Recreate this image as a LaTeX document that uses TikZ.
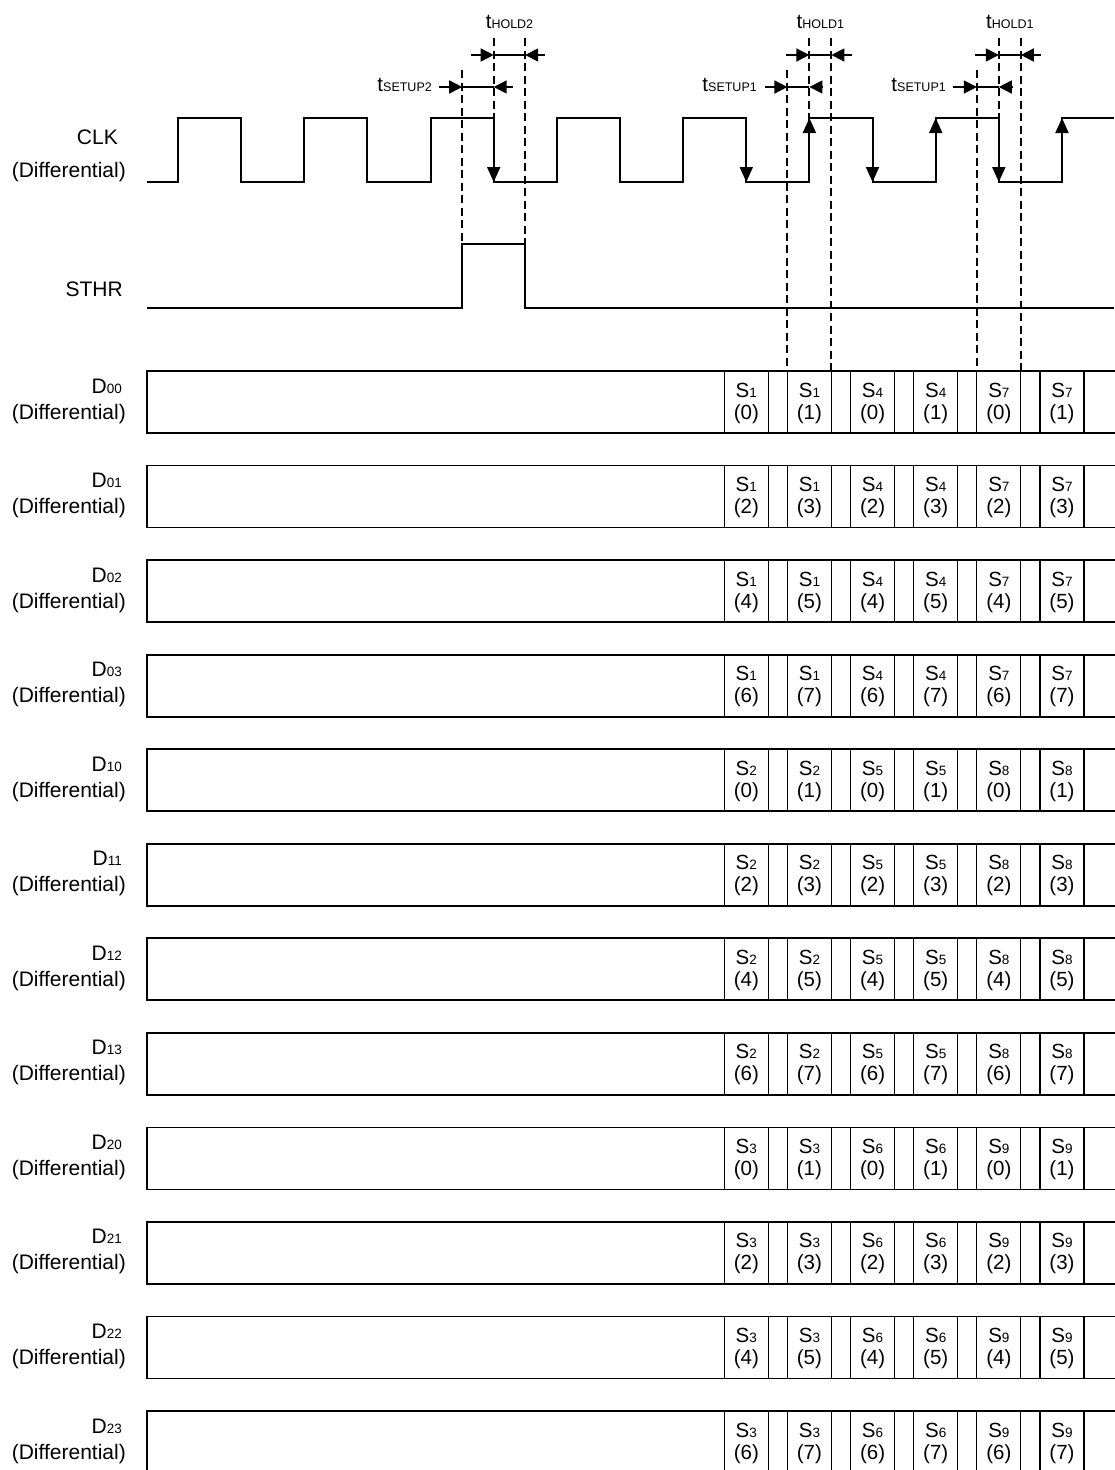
\documentclass[tikz,border=0pt]{standalone}
\usepackage{fontspec}
\setmainfont{Liberation Sans}
\usetikzlibrary{arrows.meta}
\newcommand\subsm[1]{{\fontsize{13.5}{14}\selectfont #1}}
\newcommand\tsub[1]{{\fontsize{12.5}{13}\selectfont #1}}
\tikzset{
 sig/.style={line width=2pt},
 boxline/.style={line width=1.8pt},
 cellline/.style={line width=1.1pt},
 dashline/.style={line width=2pt, dash pattern=on 8pt off 4.5pt},
 dimline/.style={line width=1.1pt},
 dimarrow/.style={line width=1.6pt, -{Triangle[length=13pt,width=13pt]}},
 edgearrow/.style={line width=2pt, -{Triangle[length=15pt,width=13pt]}},
 lbl/.style={inner sep=0pt, font=\fontsize{21}{25}\selectfont},
 celltxt/.style={inner sep=0pt, font=\fontsize{20.5}{24}\selectfont, anchor=base},
 tl/.style={inner sep=0pt, font=\fontsize{20.5}{24}\selectfont},
}
\begin{document}
\begin{tikzpicture}[x=1pt,y=-1pt]
\useasboundingbox[fill=white] (0,0) rectangle (1114,1470);

% ---------- CLK ----------
\node[lbl, anchor=base east] (clk) at (118,144) {CLK};
\node[lbl, anchor=base east] (clkd) at (126,177) {(Differential)};
\draw[sig] (147,182) -- (178,182) -- (178,118) -- (241.1,118) -- (241.1,182) -- (304.3,182) -- (304.3,118) -- (367.4,118) -- (367.4,182) -- (430.6,182) -- (430.6,118) -- (493.7,118) -- (493.7,182) -- (556.8,182) -- (556.8,118) -- (620,118) -- (620,182) -- (683.1,182) -- (683.1,118) -- (746.3,118) -- (746.3,182) -- (809.4,182) -- (809.4,118) -- (872.5,118) -- (872.5,182) -- (935.7,182) -- (935.7,118) -- (998.8,118) -- (998.8,182) -- (1062,182) -- (1062,118) -- (1114,118);
% edge arrows
\foreach \n/\x in {f5/493.7, f9/746.3, f11/872.5, f13/998.8}{
  \coordinate (\n a) at (\x,118); \coordinate (\n b) at (\x,182);
  \draw[edgearrow] (\n a) -- (\n b);
}
\foreach \n/\x in {r10/809.4, r12/935.7, r14/1062}{
  \coordinate (\n a) at (\x,182); \coordinate (\n b) at (\x,118);
  \draw[edgearrow] (\n a) -- (\n b);
}

% ---------- STHR ----------
\node[lbl, anchor=base east] (sthr) at (123,296) {STHR};
\draw[sig] (147,308) -- (462.2,308) -- (462.2,244) -- (525.2,244) -- (525.2,308) -- (1114,308);

% ---------- dashed reference lines ----------
\foreach \n/\x/\ya/\yb in {s2/462.2/70/244, c5/493.7/38/118, h2/525.2/38/244, s1a/787.4/70/371, c10/809.4/38/118, h1a/831.4/38/371, s1b/976.8/70/371, c13/998.8/38/118, h1b/1020.8/38/371}{
  \coordinate (\n top) at (\x,\ya);
  \coordinate (\n bot) at (\x,\yb);
  \draw[dashline] (\n top) -- (\n bot);
}

% ---------- timing dimensions ----------
\foreach \n/\la/\lb/\rb/\ra/\y in {ds2/439/462.2/493.7/513/87, dh2/471/493.7/525.2/545/55, ds1a/765/787.4/809.4/823/87, dh1a/786/809.4/831.4/852/55, ds1b/953/976.8/998.8/1013/87, dh1b/975/998.8/1020.8/1041/55}{
  \coordinate (\n la) at (\la,\y); \coordinate (\n lb) at (\lb,\y);
  \coordinate (\n rb) at (\rb,\y); \coordinate (\n ra) at (\ra,\y);
  \draw[dimline] (\n lb) -- (\n rb);
  \draw[dimarrow] (\n la) -- (\n lb);
  \draw[dimarrow] (\n ra) -- (\n rb);
}
\node[tl, anchor=base] (th2) at (509.5,28) {t\tsub{HOLD2}};
\node[tl, anchor=base] (th1a) at (820.4,28) {t\tsub{HOLD1}};
\node[tl, anchor=base] (th1b) at (1009.8,28) {t\tsub{HOLD1}};
\node[tl, anchor=base east] (ts2) at (432,91) {t\tsub{SETUP2}};
\node[tl, anchor=base east] (ts1a) at (757,91) {t\tsub{SETUP1}};
\node[tl, anchor=base east] (ts1b) at (946,91) {t\tsub{SETUP1}};

% ---------- data rows ----------
\foreach \r in {0,...,11}{
  \pgfmathsetmacro\T{371+94.55*\r}
  \pgfmathsetmacro\B{\T+62}
  \pgfmathtruncatemacro\g{int(\r/4)}
  \pgfmathtruncatemacro\s{mod(\r,4)}
  \foreach \k in {0,...,5}{
    \pgfmathsetmacro\c{746.3+63.14*\k}
    \pgfmathtruncatemacro\sn{\g+1+3*int(\k/2)}
    \pgfmathtruncatemacro\idx{2*\s+mod(\k,2)}
    \draw[cellline] (\c-22,\T) rectangle (\c+22,\B);
    \node[celltxt] (s\r-\k) at (\c,\T+26) {S\subsm{\sn}};
    \node[celltxt] (p\r-\k) at (\c,\T+48) {(\idx)};
  }
  \draw[boxline] (1116,\T) -- (147,\T) -- (147,\B) -- (1116,\B);
  \node[lbl, anchor=base east] (dl\r) at (122,\T+22) {D\subsm{\g\s}};
  \node[lbl, anchor=base east] (dd\r) at (126,\T+48) {(Differential)};
}
\end{tikzpicture}
\end{document}
